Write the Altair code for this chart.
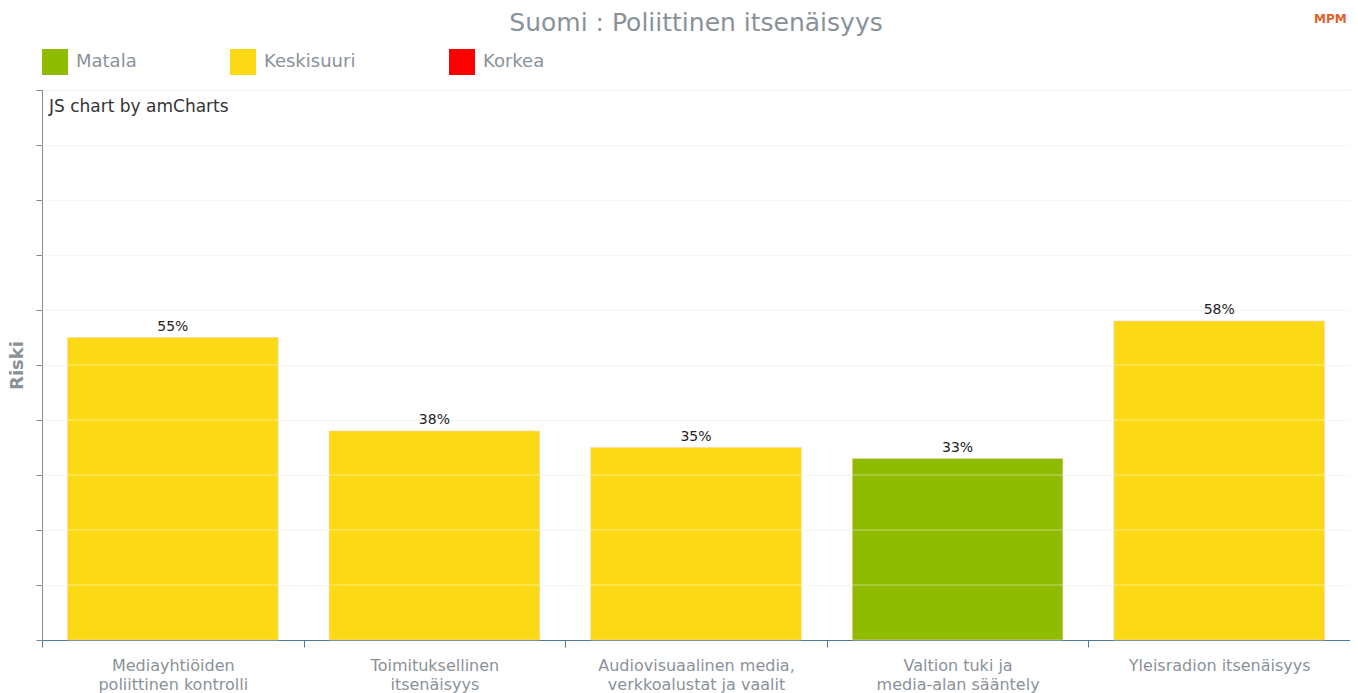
import altair as alt
import pandas as pd

categories = [
    "Mediayhtiöiden|poliittinen kontrolli",
    "Toimituksellinen|itsenäisyys",
    "Audiovisuaalinen media,|verkkoalustat ja vaalit",
    "Valtion tuki ja|media-alan sääntely",
    "Yleisradion itsenäisyys",
]
values = [55, 38, 35, 33, 58]
levels = ["Keskisuuri", "Keskisuuri", "Keskisuuri", "Matala", "Keskisuuri"]
level_names = ["Matala", "Keskisuuri", "Korkea"]
level_colors = ["#8fbb00", "#fbd915", "#ff0000"]
grid_values = [10, 20, 30, 40, 50, 60, 70, 80, 90]
title_text = "Suomi : Poliittinen itsenäisyys"

FONT = "DejaVu Sans"
GREY = "#8a9299"
W = 1308

df = pd.DataFrame({
    "kategoria": categories,
    "arvo": values,
    "taso": levels,
    "teksti": [f"{v}%" for v in values],
})
grid_df = pd.DataFrame({"g": grid_values})

x_scale = alt.Scale(paddingInner=0, paddingOuter=0)
x_enc = alt.X(
    "kategoria:N",
    sort=categories,
    scale=x_scale,
    axis=alt.Axis(
        title=None,
        labelAngle=0,
        labelExpr="split(datum.label, '|')",
        labelFontSize=16,
        labelFont=FONT,
        labelColor=GREY,
        labelPadding=10,
        labelLineHeight=19,
        labelLimit=300,
        tickBand="extent",
        tickSize=7,
        tickColor="#4a7aa0",
        domainColor="#4a7aa0",
        grid=False,
    ),
)
y_scale = alt.Scale(domain=[0, 100], nice=False)

bars = alt.Chart(df).mark_bar(
    width=alt.RelativeBandSize(0.805), stroke="#f7d3b8", strokeWidth=1, strokeOpacity=0.6
).encode(
    x=x_enc,
    y=alt.Y(
        "arvo:Q",
        scale=y_scale,
        axis=alt.Axis(
            title="Riski",
            titleFontSize=18,
            titleFont=FONT,
            titleFontWeight="bold",
            titleColor=GREY,
            titlePadding=9,
            labels=False,
            values=[0, 10, 20, 30, 40, 50, 60, 70, 80, 90, 100],
            tickSize=6,
            tickColor="#7f8a96",
            domainColor="#7f8a96",
            gridColor="#f2f2f2",
        ),
    ),
    color=alt.Color(
        "taso:N",
        scale=alt.Scale(domain=level_names, range=level_colors),
        legend=alt.Legend(
            title=None,
            orient="none",
            legendX=0,
            legendY=-41,
            direction="horizontal",
            symbolType="square",
            symbolSize=676,
            symbolStrokeWidth=0,
            symbolOpacity=1,
            labelFontSize=18,
            labelFont=FONT,
            labelColor=GREY,
            labelOffset=8,
            columnPadding=93,
        ),
    ),
)

grid_over = alt.Chart(grid_df).mark_rule(color="white", opacity=0.45, strokeWidth=1).encode(
    y=alt.Y("g:Q", scale=y_scale)
)

labels = alt.Chart(df).mark_text(
    baseline="bottom", dy=-4, fontSize=14, font=FONT, color="#222222"
).encode(
    x=alt.X("kategoria:N", sort=categories, scale=x_scale),
    y=alt.Y("arvo:Q", scale=y_scale),
    text="teksti:N",
)

credit = alt.Chart(pd.DataFrame({"t": ["JS chart by amCharts"]})).mark_text(
    align="left", baseline="middle", fontSize=17, font=FONT, color="#333333"
).encode(x=alt.value(7), y=alt.value(17), text="t:N")

title = alt.Chart(pd.DataFrame({"t": [title_text]})).mark_text(
    align="center", baseline="middle", fontSize=25, font=FONT, color=GREY
).encode(x=alt.value(W / 2), y=alt.value(-67), text="t:N")

logo_mpm = alt.Chart(pd.DataFrame({"t": ["MPM 2024"]})).mark_text(
    align="left", baseline="middle", fontSize=12, font=FONT, fontWeight="bold", color="#e0622a"
).encode(x=alt.value(1272), y=alt.value(-71), text="t:N")

chart = alt.layer(bars, grid_over, labels, credit, title, logo_mpm).properties(
    width=W,
    height=550,
    autosize=alt.AutoSizeParams(type="none"),
    padding={"left": 34, "top": 82, "right": 0, "bottom": 53},
).configure_view(stroke=None)

chart.save("out.html", embed_options={"renderer": "svg", "actions": False})
